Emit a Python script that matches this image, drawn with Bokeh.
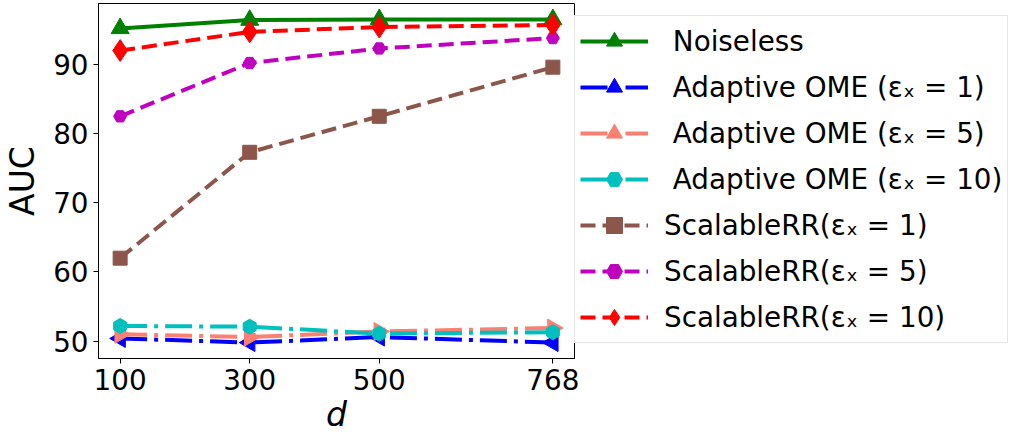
import math
from bokeh.plotting import figure
from bokeh.models import Legend, LegendItem, FixedTicker, Range1d
from bokeh.embed import file_html
from bokeh.resources import INLINE

d_values = [100, 300, 500, 768]
noiseless = [95.2, 96.4, 96.5, 96.5]
ome_eps1 = [50.4, 49.8, 50.6, 49.8]
ome_eps5 = [51.0, 50.6, 51.4, 51.9]
ome_eps10 = [52.2, 52.1, 51.1, 51.3]
srr_eps1 = [62.0, 77.3, 82.5, 89.6]
srr_eps5 = [82.5, 90.2, 92.3, 93.8]
srr_eps10 = [92.0, 94.7, 95.4, 95.7]

x_ticks = [100, 300, 500, 768]
y_ticks = [50, 60, 70, 80, 90]

NB = "\u00a0"
DASHED = "15 7"
DASHDOT = "27 7 4 7"
series = [
    (NB + "Noiseless", noiseless, "green", "solid", "triangle", 18, 0.0),
    (NB + "Adaptive OME (εₓ = 1)", ome_eps1, "blue", DASHDOT, "triangle", 18, math.pi / 2),
    (NB + "Adaptive OME (εₓ = 5)", ome_eps5, "#fa8072", DASHDOT, "triangle", 18, -math.pi / 2),
    (NB + "Adaptive OME (εₓ = 10)", ome_eps10, "#00bfbf", DASHDOT, "hex", 15, math.pi / 2),
    ("ScalableRR(εₓ = 1)", srr_eps1, "#8c564b", DASHED, "square", 14, 0.0),
    ("ScalableRR(εₓ = 5)", srr_eps5, "#bf00bf", DASHED, "hex", 13, 0.0),
    ("ScalableRR(εₓ = 10)", srr_eps10, "red", DASHED, "diamond", 22, 0.0),
]

FONT = "DejaVu Sans"

p = figure(frame_width=476, frame_height=355, output_backend="svg", toolbar_location=None,
           min_border_left=97, min_border_right=0, min_border_top=3, min_border_bottom=75,
           x_range=Range1d(66.6, 801.4), y_range=Range1d(47.5, 98.8))
p.xgrid.visible = False
p.ygrid.visible = False
p.outline_line_color = "black"
p.outline_line_width = 1
p.background_fill_color = "white"
p.border_fill_color = "white"

items = []
for label, vals, color, dash, marker, size, ang in series:
    r1 = p.line(d_values, vals, line_color=color, line_width=4, line_dash=dash)
    r2 = p.scatter(d_values, vals, marker=marker, size=size, angle=ang,
                   fill_color=color, line_color=color)
    items.append(LegendItem(label=label, renderers=[r1, r2]))

for ax in (p.xaxis[0], p.yaxis[0]):
    ax.major_label_text_font = FONT
    ax.major_label_text_font_size = "27.8px"
    ax.major_label_text_color = "black"
    ax.axis_label_text_font = FONT
    ax.axis_label_text_font_size = "33px"
    ax.axis_label_text_color = "black"
    ax.major_tick_out = 5
    ax.major_tick_in = 0
    ax.minor_tick_out = 0
    ax.minor_tick_in = 0
    ax.axis_line_color = "black"
    ax.major_tick_line_color = "black"

p.xaxis.ticker = FixedTicker(ticks=x_ticks)
p.yaxis.ticker = FixedTicker(ticks=y_ticks)
p.xaxis.axis_label = "d"
p.xaxis.axis_label_text_font_style = "italic"
p.xaxis.major_label_standoff = 5
p.xaxis.axis_label_standoff = 2
p.yaxis.axis_label = "AUC"
p.yaxis.axis_label_text_font_style = "normal"
p.yaxis.major_label_standoff = 5
p.yaxis.axis_label_standoff = 8

legend = Legend(items=items, location=(0, 15))
legend.label_text_font = FONT
legend.label_text_font_size = "27.8px"
legend.label_text_color = "black"
legend.glyph_width = 68
legend.glyph_height = 40
legend.label_height = 40
legend.label_standoff = 16
legend.spacing = 6
legend.padding = 5
legend.margin = 0
legend.border_line_color = "#cccccc"
legend.border_line_width = 1
legend.background_fill_color = "white"
legend.background_fill_alpha = 1.0
p.add_layout(legend, "right")

open("out.html", "w").write(file_html(p, INLINE))
